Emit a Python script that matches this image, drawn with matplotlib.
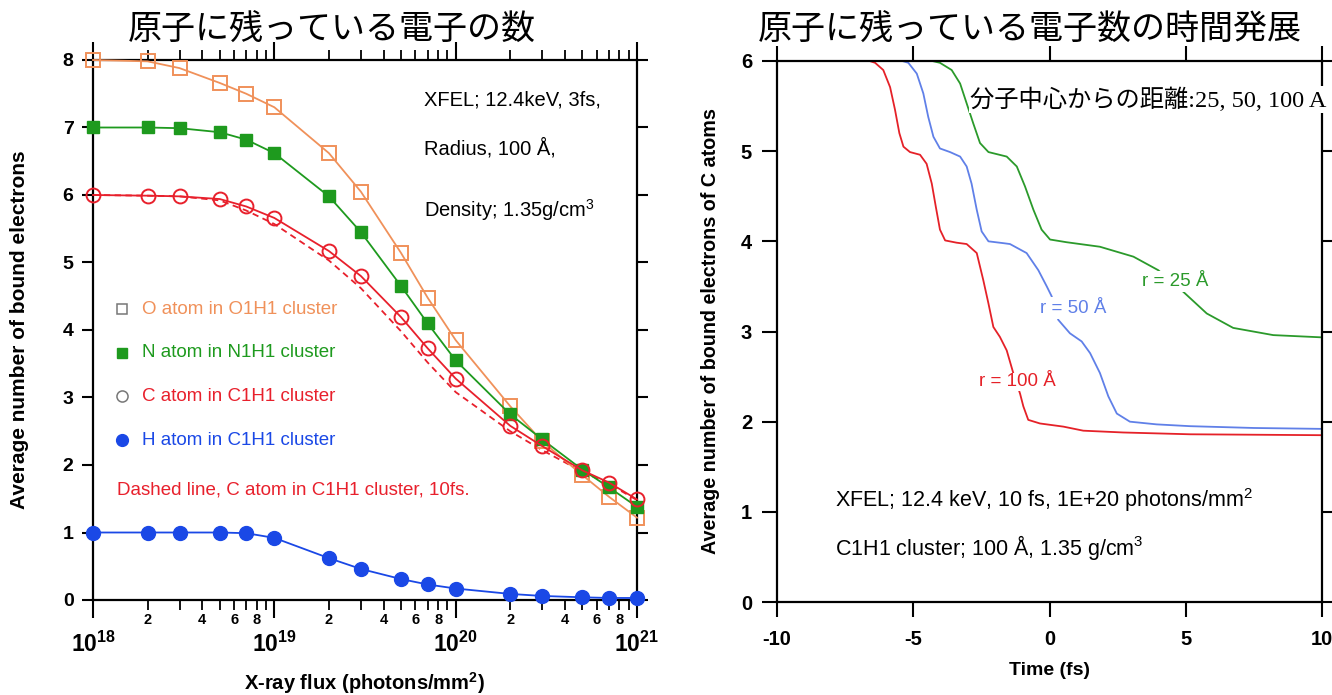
import matplotlib
matplotlib.use("Agg")
import matplotlib.pyplot as plt
from matplotlib.ticker import LogLocator, FuncFormatter, MultipleLocator
import numpy as np

plt.rcParams['font.family'] = ['Liberation Sans', 'Noto Sans CJK JP', 'DejaVu Sans']
plt.rcParams['mathtext.fontset'] = 'custom'
plt.rcParams['mathtext.rm'] = 'Liberation Sans'
plt.rcParams['mathtext.it'] = 'Liberation Sans:italic'
plt.rcParams['mathtext.bf'] = 'Liberation Sans:bold'
plt.rcParams['axes.unicode_minus'] = False

# ---------------- Left panel data ----------------
flux = [1e18, 2e18, 3e18, 5e18, 7e18, 1e19, 2e19, 3e19, 5e19, 7e19,
        1e20, 2e20, 3e20, 5e20, 7e20, 1e21]
o_atom = [8.0, 7.98, 7.88, 7.66, 7.50, 7.30, 6.62, 6.05, 5.14, 4.48,
          3.85, 2.87, 2.35, 1.85, 1.53, 1.22]
n_atom = [7.0, 7.0, 6.99, 6.93, 6.82, 6.62, 5.98, 5.45, 4.65, 4.10,
          3.55, 2.75, 2.38, 1.93, 1.67, 1.38]
c_atom = [6.0, 5.99, 5.98, 5.94, 5.83, 5.66, 5.17, 4.80, 4.19, 3.73,
          3.28, 2.58, 2.28, 1.92, 1.74, 1.49]
c_atom_10fs = [6.0, 5.99, 5.98, 5.92, 5.77, 5.57, 5.03, 4.62, 3.98, 3.52,
               3.08, 2.50, 2.22, 1.90, 1.72, 1.48]
h_atom = [1.0, 1.0, 1.0, 1.0, 0.99, 0.92, 0.62, 0.46, 0.31, 0.23,
          0.17, 0.09, 0.06, 0.04, 0.03, 0.03]

legend_labels = ["O atom in O1H1 cluster", "N atom in N1H1 cluster",
                 "C atom in C1H1 cluster", "H atom in C1H1 cluster"]

# ---------------- Right panel data ----------------
t_r100 = [-10, -6.6, -6.40, -6.10, -5.85, -5.67, -5.51, -5.36, -5.12, -4.75, -4.51,
          -4.32, -4.17, -4.02, -3.83, -3.41, -3.04, -2.67, -2.43, -2.24, -2.06,
          -1.82, -1.57, -1.33, -1.08, -0.96, -0.78, -0.35, 0.51, 1.24, 2.71, 5.16, 10]
v_r100 = [6.0, 6.0, 5.98, 5.90, 5.71, 5.46, 5.20, 5.05, 4.99, 4.96, 4.86,
          4.64, 4.38, 4.13, 4.01, 3.985, 3.97, 3.87, 3.57, 3.31, 3.05,
          2.94, 2.79, 2.54, 2.31, 2.17, 2.02, 1.98, 1.945, 1.90, 1.88, 1.86, 1.85]

t_r50 = [-10, -5.4, -5.18, -4.87, -4.63, -4.45, -4.26, -4.02, -3.65, -3.28, -3.04,
         -2.86, -2.67, -2.49, -2.24, -1.70, -1.45, -0.84, -0.41, -0.10, 0.08, 0.32,
         0.75, 1.18, 1.49, 1.85, 2.16, 2.47, 2.95, 3.93, 5.16, 7.5, 10]
v_r50 = [6.0, 6.0, 5.98, 5.86, 5.64, 5.38, 5.16, 5.03, 4.99, 4.94, 4.83,
         4.64, 4.35, 4.11, 4.0, 3.98, 3.97, 3.87, 3.68, 3.50, 3.39, 3.13,
         2.98, 2.89, 2.76, 2.54, 2.28, 2.09, 2.0, 1.97, 1.95, 1.93, 1.92]

t_r25 = [-10, -4.3, -4.02, -3.59, -3.28, -3.04, -2.80, -2.55, -2.24, -1.57, -1.20,
         -0.90, -0.59, -0.29, 0.02, 0.63, 1.85, 3.08, 3.99, 4.91, 5.77, 6.74, 8.21, 10]
v_r25 = [6.0, 6.0, 5.98, 5.90, 5.75, 5.53, 5.31, 5.09, 4.99, 4.94, 4.83,
         4.61, 4.35, 4.13, 4.02, 3.99, 3.94, 3.83, 3.68, 3.44, 3.20, 3.04, 2.96, 2.935]

W, H = 1332, 695
fig = plt.figure(figsize=(W / 100, H / 100), dpi=100)

def fbox(x0, y0, x1, y1):
    return [x0 / W, 1 - y1 / H, (x1 - x0) / W, (y1 - y0) / H]

ORANGE = '#f0915a'
GREEN = '#1e9a1e'
RED = '#e8202c'
BLUE = '#1a48e6'

# ================= Left axes =================
ax1 = fig.add_axes(fbox(93, 60, 637, 600))
ax1.set_xscale('log')
ax1.plot(flux, c_atom_10fs, ls=(0, (3.5, 2.5)), color=RED, lw=1.3, zorder=2, clip_on=False)
ax1.plot(flux, o_atom, '-s', color=ORANGE, mfc='none', mec=ORANGE, ms=9.5, mew=1.4, lw=1.3,
         zorder=3, clip_on=False)
ax1.plot(flux, n_atom, '-s', color=GREEN, mfc=GREEN, mec=GREEN, ms=8.5, lw=1.3, zorder=3,
         clip_on=False)
ax1.plot(flux, c_atom, '-o', color=RED, mfc='none', mec=RED, ms=10, mew=1.4, lw=1.3, zorder=3,
         clip_on=False)
ax1.plot(flux, h_atom, '-o', color=BLUE, mfc=BLUE, mec=BLUE, ms=10, lw=1.3, zorder=3,
         clip_on=False)
ax1.set_xlim(1e18, 1e21)
ax1.set_ylim(0, 8)
ax1.yaxis.set_major_locator(MultipleLocator(1))
ax1.xaxis.set_major_locator(LogLocator(base=10, numticks=10))
ax1.xaxis.set_minor_locator(LogLocator(base=10, subs=np.arange(2, 10), numticks=20))

def major_fmt(x, pos):
    e = int(round(np.log10(x)))
    return r'$\mathbf{10^{%d}}$' % e

def minor_fmt(x, pos):
    e = np.floor(np.log10(x) + 1e-9)
    m = int(round(x / 10 ** e))
    return str(m) if m in (2, 4, 6, 8) else ''

ax1.xaxis.set_major_formatter(FuncFormatter(major_fmt))
ax1.xaxis.set_minor_formatter(FuncFormatter(minor_fmt))
ax1.tick_params(axis='x', which='major', direction='out', length=13, width=1.5,
                top=True, labelsize=16.5, pad=10)
ax1.tick_params(axis='x', which='minor', direction='out', length=7, width=1.3,
                top=True, labelsize=10.5, pad=2)
ax1.tick_params(axis='y', which='major', direction='out', length=8, width=1.5,
                right=True, labelsize=14, pad=6)
for lab in ax1.get_xticklabels(minor=True) + ax1.get_yticklabels():
    lab.set_fontweight('bold')
for s in ax1.spines.values():
    s.set_linewidth(1.6)
ax1.set_ylabel('Average number of bound electrons', fontsize=15, fontweight='bold')
ax1.yaxis.set_label_coords(-0.118, 0.5)
ax1.set_xlabel('X-ray flux (photons/mm$\\mathbf{^2}$)', fontsize=14.5, fontweight='bold')
ax1.xaxis.set_label_coords(0.5, -0.13)

# annotations
ax1.text(6.7e19, 7.41, 'XFEL; 12.4keV, 3fs,', fontsize=14.5, va='center')
ax1.text(6.7e19, 6.70, 'Radius, 100 Å,', fontsize=14.5, va='center')
ax1.text(6.7e19, 5.78, 'Density; 1.35g/cm$^3$', fontsize=14.5, va='center')

leg_y = [4.31, 3.66, 3.02, 2.37]
leg_style = [dict(marker='s', mfc='none', mec='#777777', ms=7.5, mew=1.1),
             dict(marker='s', mfc=GREEN, mec=GREEN, ms=7),
             dict(marker='o', mfc='none', mec='#777777', ms=8, mew=1.1),
             dict(marker='o', mfc=BLUE, mec=BLUE, ms=8.5)]
leg_col = [ORANGE, GREEN, RED, BLUE]
for y, st, c, lab in zip(leg_y, leg_style, leg_col, legend_labels):
    ax1.plot([1.445e18], [y], ls='none', clip_on=False, **st)
    ax1.text(1.86e18, y, lab, color=c, fontsize=13.5, va='center')
ax1.text(1.356e18, 1.63, 'Dashed line, C atom in C1H1 cluster, 10fs.', color=RED,
         fontsize=13.5, va='center')

# ================= Right axes =================
ax2 = fig.add_axes(fbox(777, 61, 1322, 602))
ax2.plot(t_r100, v_r100, color='#e52128', lw=1.3)
ax2.plot(t_r50, v_r50, color='#6080e8', lw=1.3)
ax2.plot(t_r25, v_r25, color='#2b9a2b', lw=1.3)
ax2.set_xlim(-10, 10)
ax2.set_ylim(0, 6)
ax2.xaxis.set_major_locator(MultipleLocator(5))
ax2.yaxis.set_major_locator(MultipleLocator(1))
ax2.tick_params(axis='both', direction='out', length=11, width=1.5, top=True, right=True,
                labelsize=14.5, pad=9)
ax2.tick_params(axis='y', pad=7)
for lab in ax2.get_xticklabels() + ax2.get_yticklabels():
    lab.set_fontweight('bold')
for s in ax2.spines.values():
    s.set_linewidth(1.6)
ax2.set_ylabel('Average number of bound electrons of C atoms', fontsize=14.2,
               fontweight='bold')
ax2.yaxis.set_label_coords(-0.104, 0.5)
ax2.set_xlabel('Time (fs)', fontsize=14, fontweight='bold')
ax2.xaxis.set_label_coords(0.5, -0.11)

ax2.text(4.61, 3.55, 'r = 25 Å', color='#2b9a2b', fontsize=13.5, ha='center', va='center',
         bbox=dict(fc='white', ec='none', pad=1.5))
ax2.text(0.87, 3.26, 'r = 50 Å', color='#6080e8', fontsize=13.5, ha='center', va='center',
         bbox=dict(fc='white', ec='none', pad=1.5))
ax2.text(-1.19, 2.44, 'r = 100 Å', color='#e52128', fontsize=13.5, ha='center', va='center',
         bbox=dict(fc='white', ec='none', pad=0.5))
ax2.text(-2.90, 5.57, '分子中心からの距離:25, 50, 100 A', fontsize=17.5,
         family=['Liberation Serif', 'Noto Sans CJK JP'], va='center',
         bbox=dict(fc='white', ec='none', pad=1))
ax2.text(-7.87, 1.13, 'XFEL; 12.4 keV, 10 fs, 1E+20 photons/mm$^2$', fontsize=15.5, va='center')
ax2.text(-7.87, 0.60, 'C1H1 cluster; 100 Å, 1.35 g/cm$^3$', fontsize=15.5, va='center')

# ================= Titles =================
fig.text(332 / W, 1 - 30 / H, '原子に残っている電子の数', fontsize=24.5,
         family=['Noto Sans CJK JP'], ha='center', va='center')
fig.text(1030 / W, 1 - 30 / H, '原子に残っている電子数の時間発展', fontsize=24.5,
         family=['Noto Sans CJK JP'], ha='center', va='center')

fig.savefig('out.png', dpi=100)
